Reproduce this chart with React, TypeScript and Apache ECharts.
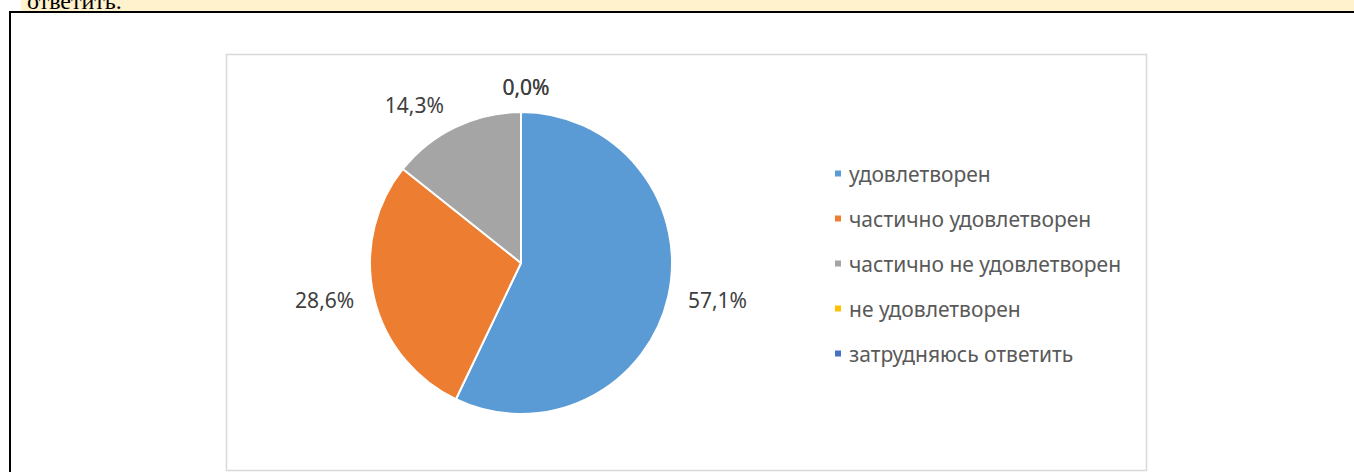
import React, { useEffect, useRef } from "react";
import * as echarts from "echarts";

const categories = [
  "удовлетворен",
  "частично удовлетворен",
  "частично не удовлетворен",
  "не удовлетворен",
  "затрудняюсь ответить",
];
const values = [57.1, 28.6, 14.3, 0.0, 0.0];
const colors = ["#5B9BD5", "#ED7D31", "#A5A5A5", "#FFC000", "#4472C4"];
const captionTail = "ответить.";

export default function App() {
  const ref = useRef<HTMLDivElement>(null);
  useEffect(() => {
    if (!ref.current) return;
    const chart = echarts.init(ref.current, undefined, { renderer: "svg" });
    const font = "'Noto Sans', 'DejaVu Sans', sans-serif";
    chart.setOption({
      animation: false,
      backgroundColor: "#ffffff",
      color: colors,
      graphic: [
        { type: "rect", silent: true, z: -8, shape: { x: 9, y: 11, width: 1345, height: 2 }, style: { fill: "#000000" } },
        { type: "rect", silent: true, z: -8, shape: { x: 9, y: 11, width: 2, height: 461 }, style: { fill: "#000000" } },
        { type: "rect", silent: true, z: -7, shape: { x: 226.5, y: 54.5, width: 920, height: 416 }, style: { fill: "none", stroke: "#D9D9D9", lineWidth: 1.5 } },
      ],
      legend: {
        orient: "vertical",
        left: 833,
        top: 163,
        padding: 0,
        itemGap: 24,
        itemWidth: 8,
        itemHeight: 8,
        icon: "rect",
        data: categories,
        textStyle: { color: "#595959", fontSize: 21, lineHeight: 21, fontFamily: font, padding: [0, 0, 0, 2] },
      },
      series: [
        {
          type: "pie",
          center: [521, 263],
          radius: 151,
          startAngle: 90,
          clockwise: true,
          avoidLabelOverlap: false,
          itemStyle: { borderColor: "#ffffff", borderWidth: 2 },
          label: {
            show: true,
            position: "outside",
            color: "#404040",
            fontSize: 21,
            fontFamily: font,
            formatter: (p: any) => Number(p.value).toFixed(1).replace(".", ",") + "%",
          },
          labelLine: { show: false, length: 15, length2: 0 },
          labelLayout: (p: any) =>
            p.dataIndex >= 3 ? { align: "center", dy: -10 } : p.dataIndex === 2 ? { dy: -8 } : {},
          emphasis: { disabled: true },
          data: categories.map((name, i) => ({ name, value: values[i] })),
        },
      ],
    });
    return () => chart.dispose();
  }, []);
  return (
    <div style={{ position: "absolute", left: 0, top: 0, width: 1354, height: 472, overflow: "hidden" }}>
      <div ref={ref} style={{ width: 1354, height: 472 }} />
      <div
        style={{
          position: "absolute",
          left: 21,
          top: 0,
          width: 1333,
          height: 11,
          background: "#FFF2CC",
          overflow: "hidden",
        }}
      >
        <div
          style={{
            position: "absolute",
            left: 6,
            top: -10.6,
            font: "24px 'Liberation Serif', 'DejaVu Serif', serif",
            lineHeight: "24px",
            color: "#000",
            whiteSpace: "nowrap",
          }}
        >
          {captionTail}
        </div>
      </div>
    </div>
  );
}
